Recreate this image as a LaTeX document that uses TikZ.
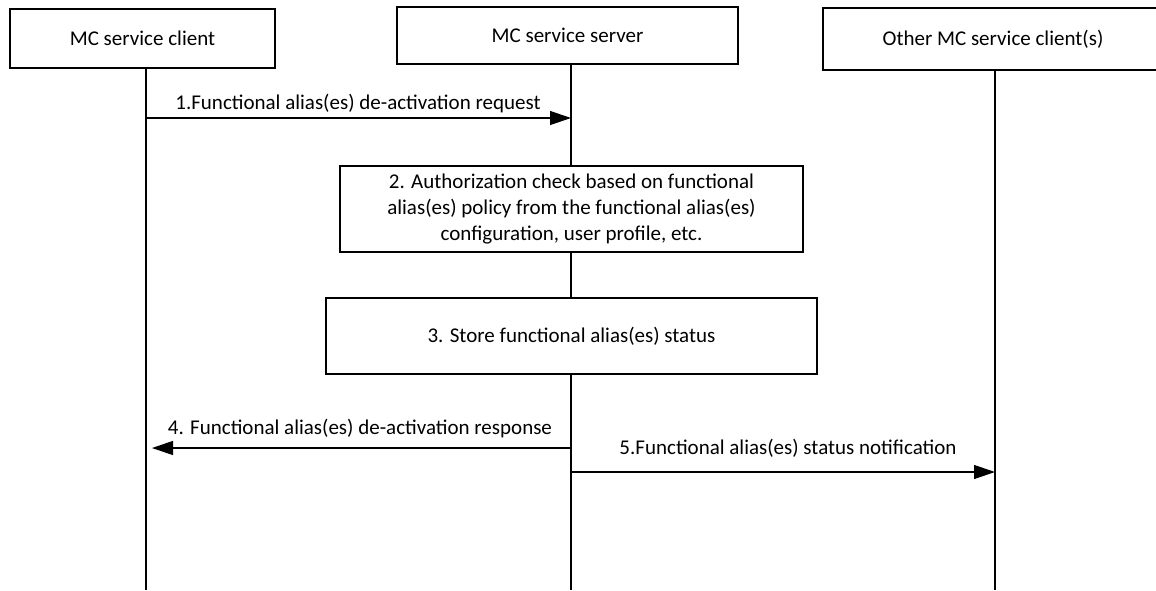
\documentclass[tikz,border=0pt]{standalone}
\usepackage{fontspec}
\setmainfont{Carlito}
\usetikzlibrary{arrows.meta}
\begin{document}
\begin{tikzpicture}[x=1pt,y=-1pt,
  every node/.style={font=\fontsize{21}{26}\selectfont},
  actor/.style={draw,line width=1.3pt,minimum height=#1,inner sep=0pt},
  life/.style={line width=1.2pt},
  msg/.style={line width=1.2pt,-{Triangle[length=21pt,width=14pt]}},
  lbl/.style={inner sep=0pt,anchor=base}]
\useasboundingbox (0,0) rectangle (1156,590);
% header boxes
\node[actor=59pt,minimum width=265pt] (c1) at (142.5,38.5) {MC service client};
\node[actor=57pt,minimum width=341pt] (srv) at (567.5,35.5) {MC service server};
\node[actor=62pt,minimum width=340pt] (c2) at (993,39) {Other MC service client(s)};
% step boxes
\node[actor=86pt,minimum width=463pt,align=center] (auth) at (571.5,209)
  {2. Authorization check based on functional\\alias(es) policy from the functional alias(es)\\configuration, user profile, etc.};
\node[actor=76pt,minimum width=491pt] (store) at (571.5,336) {3. Store functional alias(es) status};
% lifeline coordinates
\coordinate (l1top) at (146,68);
\coordinate (l1end) at (146,590);
\coordinate (l2top) at (571,64);
\coordinate (l2end) at (571,590);
\coordinate (l3top) at (995,70);
\coordinate (l3end) at (995,590);
\draw[life] (l1top) -- (l1end);
\draw[life] (l3top) -- (l3end);
\draw[life] (l2top) -- (l2top |- auth.north);
\draw[line width=2.2pt] (auth.south -| l2top) -- (store.north -| l2top);
\draw[life] (store.south -| l2top) -- (l2end);
% messages
\coordinate (m1a) at (146,118);
\coordinate (m1b) at (571,118);
\coordinate (m4a) at (571,448);
\coordinate (m4b) at (152,448);
\coordinate (m5a) at (571,472);
\coordinate (m5b) at (995,472);
\draw[msg] (m1a) -- (m1b);
\draw[msg] (m4a) -- (m4b);
\draw[msg] (m5a) -- (m5b);
\node[lbl] (t1) at (358,109) {1.Functional alias(es) de-activation request};
\node[lbl] (t4) at (360,434) {4. Functional alias(es) de-activation response};
\node[lbl] (t5) at (788,454) {5.Functional alias(es) status notification};
\end{tikzpicture}
\end{document}
